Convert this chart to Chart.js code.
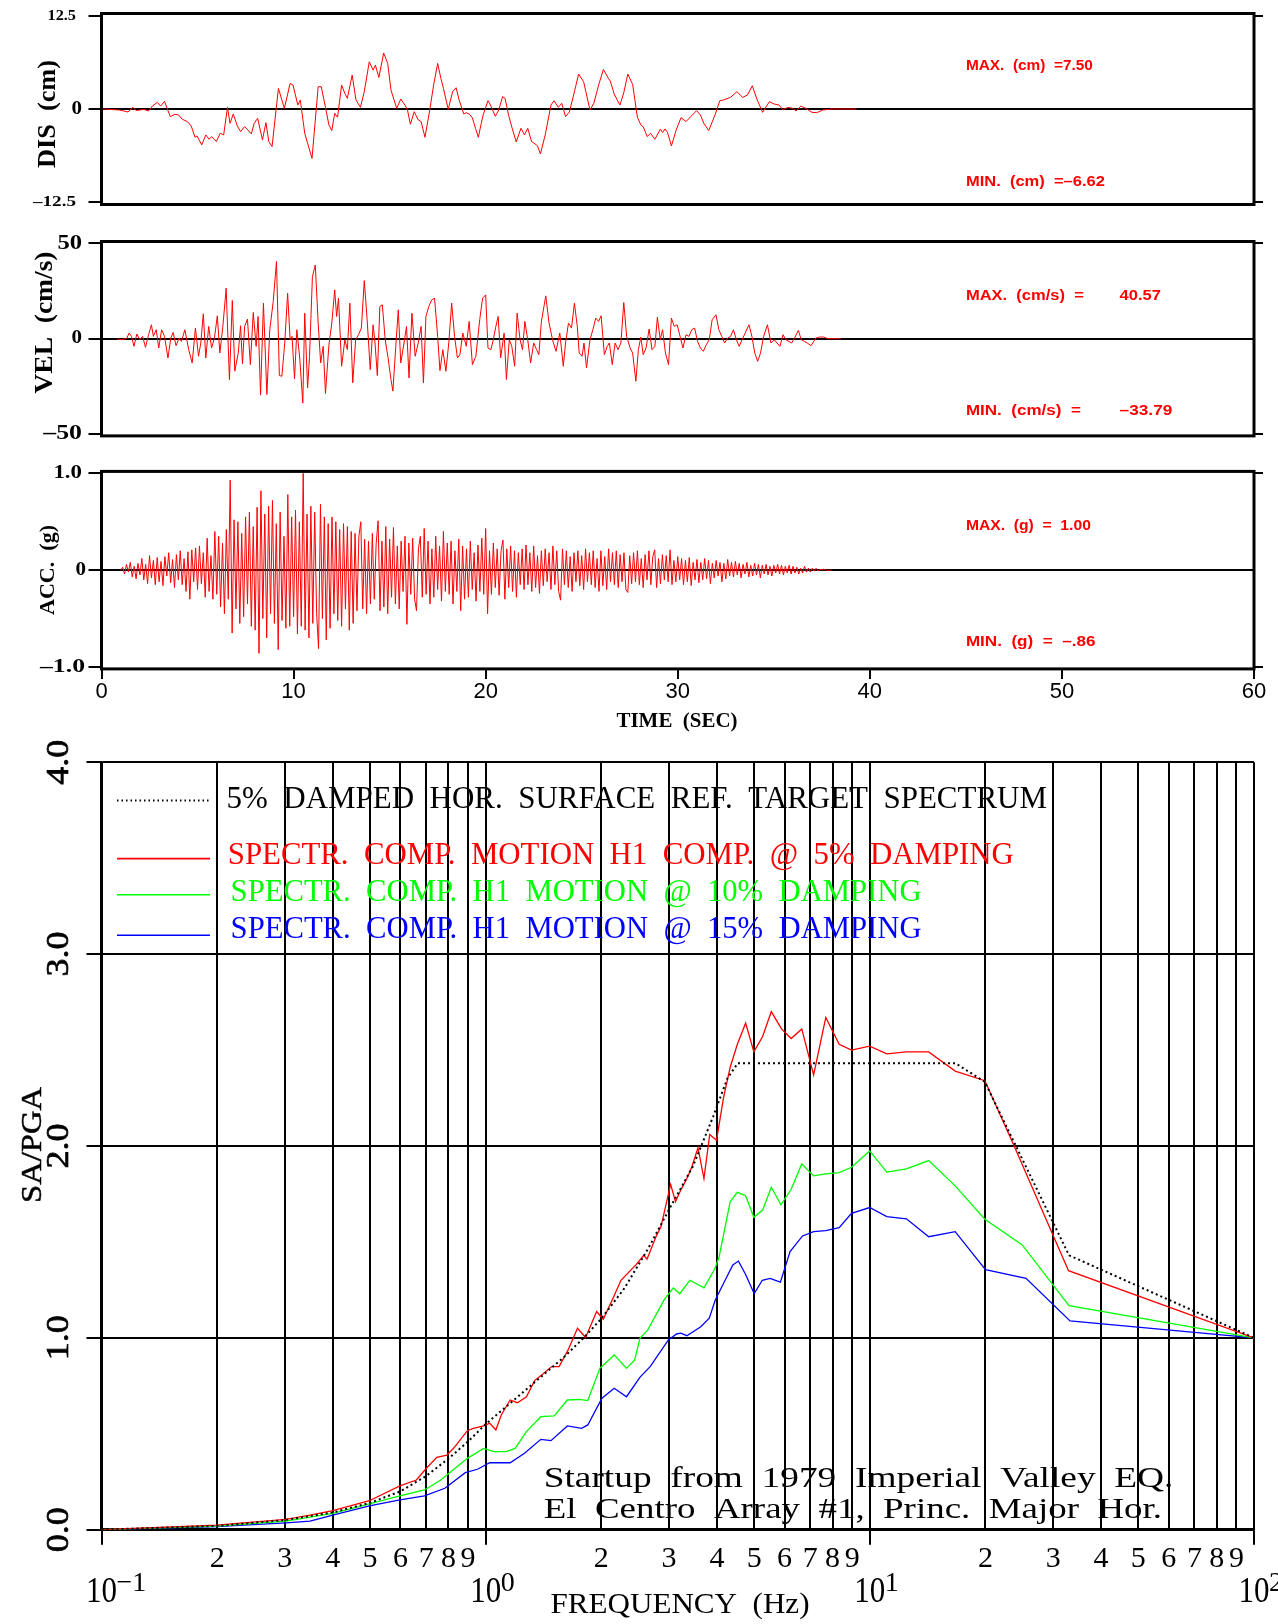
<!DOCTYPE html>
<html>
<head>
<meta charset="utf-8">
<script src="https://cdn.jsdelivr.net/npm/chart.js@4.4.1/dist/chart.umd.min.js"></script>
<style>
  html, body { margin: 0; padding: 0; background: #fff; }
  body { width: 1278px; height: 1624px; position: relative; overflow: hidden; }
  canvas { position: absolute; left: 0; }
</style>
</head>
<body>
<canvas id="dis" width="1278" height="230" style="top:0px"></canvas>
<canvas id="vel" width="1278" height="230" style="top:230px"></canvas>
<canvas id="acc" width="1278" height="280" style="top:460px"></canvas>
<canvas id="spec" width="1278" height="884" style="top:740px"></canvas>
<script>
// ---- time histories ----
const TIME_TICKS = [0, 10, 20, 30, 40, 50, 60];

const DIS_T = [0.05,0.93,1.38,1.64,1.81,2.19,2.45,2.65,2.90,3.08,
  3.28,3.58,3.83,4.01,4.21,4.47,4.67,4.87,4.97,5.22,
  5.43,5.60,5.73,5.98,6.18,6.36,6.56,6.69,6.86,7.07,
  7.24,7.45,7.62,7.80,7.95,8.13,8.38,8.56,8.71,8.88,
  9.21,9.52,9.82,9.97,10.22,10.35,10.58,10.73,10.96,11.28,
  11.44,11.66,11.84,11.99,12.14,12.29,12.50,12.67,12.80,13.05,
  13.25,13.48,13.68,13.94,14.14,14.26,14.44,14.69,14.90,15.07,
  15.37,15.58,15.83,15.93,16.08,16.28,16.49,16.64,16.84,17.09,
  17.29,17.50,17.67,17.80,18.05,18.28,18.46,18.61,18.86,18.99,
  19.16,19.31,19.47,19.62,19.77,19.87,20.12,20.25,20.50,20.68,
  20.88,21.01,21.21,21.38,21.59,21.84,22.02,22.19,22.39,22.57,
  22.70,22.85,23.10,23.40,23.56,23.78,23.96,24.16,24.36,24.62,
  24.84,25.10,25.43,25.63,25.88,26.13,26.39,26.49,26.69,26.99,
  27.19,27.40,27.65,27.90,28.08,28.20,28.41,28.58,28.81,29.09,
  29.21,29.34,29.47,29.67,29.92,30.17,30.43,30.68,30.98,31.18,
  31.36,31.61,31.94,32.19,32.37,32.75,33.08,33.38,33.63,33.88,
  34.14,34.42,34.77,35.02,35.27,35.48,35.73,35.98,36.16,36.41,
  36.66,36.99,37.24,37.55,38.05,39.31];
const DIS_V = [0,-0.13,-0.40,0.22,-0.22,-0.04,-0.27,0.40,0.89,0.40,
  1.02,-1.02,-0.71,-0.80,-1.38,-1.69,-2.27,-3.79,-3.61,-4.81,
  -3.48,-4.06,-3.70,-4.37,-3.25,-3.48,0.22,-1.92,-0.67,-2.27,
  -3.03,-2.36,-2.81,-3.34,-1.92,-1.25,-4.14,-1.83,-4.37,-5.04,
  2.76,0.09,3.43,3.21,0.53,1.20,-3.25,-4.59,-6.62,2.99,
  2.99,0.22,-2.14,-2.90,-0.58,-1.11,3.21,2.09,1.43,4.55,
  1.20,0.22,2.32,6.33,5.21,5.88,4.23,7.50,6.11,2.54,
  0.09,1.34,0.40,-0.13,-2.05,-0.36,-1.47,-1.69,-3.79,-0.13,
  3.21,6.11,4.10,2.76,-0.04,2.32,2.85,1.29,-0.67,-0.49,
  -0.71,-1.20,-2.58,-3.79,-1.92,-0.80,1.11,0.53,-0.98,-0.13,
  1.65,1.43,-1.02,-2.58,-4.41,-2.58,-3.48,-2.58,-4.37,-4.68,
  -4.95,-6.02,-3.48,0.53,1.11,0.22,0.76,-1.02,-0.40,2.32,
  4.68,3.65,-0.13,0.76,3.21,5.30,4.10,3.74,2.01,0.53,
  2.18,4.68,3.30,-1.11,-2.14,-2.36,-3.70,-3.25,-4.06,-2.72,
  -3.16,-2.67,-3.16,-4.95,-2.81,-1.16,-1.69,-1.02,-0.22,-0.80,
  -1.92,-2.90,-0.80,1.11,1.20,1.56,2.32,1.56,1.87,3.12,
  1.20,-0.45,0.98,0.67,0.53,-0.13,0.22,0.09,-0.27,0.40,
  0.09,-0.45,-0.49,-0.13,0,0];
const DIS_TICKS = [-12.5, 0, 12.5];
const DIS_TICK_LABELS = ['\u201312.5', '0', '12.5'];
const DIS_MAX = '7.50', DIS_MIN = '\u20136.62';

const VEL_T = [0.80,1.06,1.31,1.44,1.56,1.69,1.84,1.99,2.14,2.29,
  2.45,2.60,2.70,2.85,2.98,3.13,3.28,3.46,3.61,3.73,
  3.88,4.04,4.16,4.34,4.54,4.72,4.89,5.05,5.17,5.30,
  5.43,5.58,5.73,5.88,6.03,6.16,6.31,6.49,6.66,6.81,
  6.94,7.12,7.24,7.34,7.45,7.60,7.75,7.90,8.05,8.15,
  8.28,8.43,8.61,8.76,8.94,9.11,9.26,9.39,9.54,9.69,
  9.82,9.92,10.05,10.17,10.32,10.48,10.58,10.73,10.83,10.98,
  11.13,11.28,11.41,11.54,11.66,11.84,11.99,12.14,12.24,12.34,
  12.50,12.67,12.80,12.93,13.08,13.23,13.38,13.53,13.68,13.83,
  13.99,14.14,14.24,14.36,14.49,14.62,14.77,14.92,15.07,15.17,
  15.32,15.45,15.58,15.75,15.88,16.01,16.16,16.33,16.49,16.64,
  16.76,16.89,17.04,17.19,17.34,17.50,17.62,17.77,17.93,18.08,
  18.23,18.38,18.53,18.66,18.81,18.99,19.14,19.31,19.49,19.69,
  19.84,20.00,20.12,20.27,20.40,20.53,20.65,20.78,20.96,21.08,
  21.23,21.36,21.51,21.64,21.79,21.92,22.04,22.19,22.34,22.50,
  22.65,22.77,22.90,23.13,23.30,23.48,23.66,23.86,24.04,24.16,
  24.31,24.47,24.62,24.77,24.87,25.02,25.12,25.25,25.43,25.58,
  25.73,25.88,26.01,26.18,26.33,26.44,26.59,26.74,26.89,27.04,
  27.19,27.34,27.52,27.65,27.82,27.95,28.08,28.20,28.35,28.51,
  28.66,28.81,28.94,29.09,29.21,29.36,29.52,29.67,29.82,29.97,
  30.12,30.27,30.43,30.58,30.73,30.88,31.03,31.18,31.33,31.49,
  31.64,31.79,31.99,32.14,32.29,32.44,32.60,32.75,32.90,33.05,
  33.20,33.35,33.51,33.71,33.86,34.01,34.16,34.31,34.47,34.67,
  34.85,35.02,35.17,35.32,35.48,35.63,35.93,36.08,36.28,36.43,
  36.59,36.74,36.94,37.19,37.39,37.60,37.80,38.50];
const VEL_V = [-0.17,-0.52,0.17,2.96,1.22,-4.01,2.44,-0.52,1.22,-4.53,
  2.09,7.32,1.22,4.70,-4.88,4.70,1.22,-10.10,0.35,3.31,
  -3.66,0.35,-1.39,4.70,-5.75,-12.72,5.57,-9.23,-2.26,13.07,
  -10.10,6.45,-4.88,0.35,12.02,-7.49,5.57,26.48,-21.43,20.03,
  -17.07,-7.49,6.79,-13.24,6.45,10.28,-13.59,13.76,-4.01,11.67,
  -29.61,18.64,-29.27,4.70,19.51,40.57,-19.34,-19.69,-2.26,23.87,
  -0.52,1.22,-21.08,4.70,-10.10,-33.79,13.41,-25.78,-9.23,32.58,
  38.67,8.19,-12.72,-4.01,-28.74,-3.14,8.19,25.61,11.67,21.25,
  -14.46,-0.52,-5.75,18.64,-23.17,-0.52,2.09,5.57,30.49,9.93,
  -16.20,7.32,-2.26,-19.34,16.90,17.77,-0.52,-10.10,-21.43,-27.52,
  -4.01,15.16,-12.72,-2.26,6.45,-20.56,13.41,-9.23,-2.26,6.45,
  -23.17,11.67,16.90,20.38,21.25,1.22,-16.72,-5.75,-17.07,-2.26,
  18.64,1.22,-10.10,-8.36,2.96,-4.01,9.06,-13.59,-9.23,9.93,
  21.25,22.99,-4.88,-5.75,-0.52,6.45,11.67,-10.10,2.96,-21.43,
  -0.52,-4.01,-14.46,13.41,-0.52,-5.75,9.06,-0.52,-12.72,-2.26,
  -5.75,-8.36,9.06,22.47,8.19,-0.52,-6.62,2.96,-14.46,-2.26,
  8.19,5.57,18.64,6.45,-7.49,-9.23,-2.26,-15.33,-0.52,4.70,
  10.80,9.06,12.02,-8.36,-4.01,-2.26,-13.59,-2.26,-5.75,-2.26,
  18.99,1.22,-4.88,-7.49,-22.30,-5.75,0.87,-8.36,-4.88,5.05,
  -5.75,-4.01,11.32,-0.52,4.70,-7.49,-13.59,10.80,6.45,7.32,
  1.22,-4.88,2.09,1.22,4.70,5.57,-1.39,-4.88,-6.62,-3.14,
  -0.52,9.93,12.54,4.70,1.22,-2.26,0.35,1.22,4.70,-0.52,
  -4.01,-0.52,2.96,7.32,1.22,-7.49,-11.85,-7.49,1.22,7.32,
  -2.26,-0.52,-2.26,-4.01,2.09,-0.52,-2.26,0.35,4.35,-0.52,
  -1.39,-2.26,-3.66,0.35,0.87,0.87,0,0];
const VEL_TICKS = [-50, 0, 50];
const VEL_TICK_LABELS = ['\u201350', '0', '50'];
const VEL_MAX = '40.57', VEL_MIN = '\u201333.79';

// acceleration record, sampled every 0.1 s from 1.0 s
const ACC_START = 1.0, ACC_STEP = 0.1;
const ACC_V = [
  0.00,0.03,-0.04,0.06,-0.02,0.08,-0.07,0.04,-0.09,0.07,
  -0.05,0.12,-0.10,0.06,-0.14,0.15,-0.08,0.10,-0.15,0.13,
  -0.12,0.09,-0.16,0.14,-0.06,0.18,-0.13,0.11,-0.18,0.16,
  -0.10,0.20,-0.15,0.12,-0.22,0.19,-0.30,0.21,-0.12,0.23,
  -0.20,0.25,-0.14,0.18,-0.28,0.33,-0.22,0.15,-0.30,0.40,
  -0.25,0.35,-0.38,0.28,-0.45,0.42,-0.30,0.93,-0.65,0.52,
  -0.40,0.50,-0.55,0.38,-0.48,0.55,-0.35,0.60,-0.58,0.45,
  -0.62,0.65,-0.86,0.82,-0.50,0.58,-0.70,0.66,-0.45,0.72,
  -0.55,0.48,-0.82,0.60,-0.52,0.35,-0.60,0.78,-0.58,0.55,
  -0.48,0.62,-0.66,0.50,-0.58,1.00,-0.62,0.58,-0.70,0.66,
  -0.55,0.60,-0.45,-0.81,0.68,-0.50,0.55,-0.72,0.48,-0.60,
  0.55,-0.45,0.50,-0.52,0.42,-0.58,0.48,-0.40,0.45,-0.62,
  0.40,-0.55,0.38,-0.42,0.35,0.50,-0.40,0.32,-0.45,0.30,
  -0.35,0.38,-0.30,0.28,0.51,-0.42,0.30,-0.38,0.45,-0.45,
  0.32,-0.28,0.44,-0.35,0.25,-0.40,0.30,-0.22,0.35,-0.56,
  0.28,-0.25,0.33,-0.30,-0.42,0.22,0.35,-0.28,0.43,-0.25,
  0.30,-0.35,0.22,-0.28,0.35,-0.20,0.25,-0.32,0.40,-0.22,
  0.28,-0.25,0.30,-0.35,0.20,-0.22,0.32,-0.42,0.25,-0.30,
  0.22,-0.28,0.30,-0.20,0.18,-0.32,0.26,-0.22,0.33,-0.25,
  0.43,-0.45,0.20,-0.25,0.28,-0.18,0.22,-0.26,0.20,0.31,
  -0.30,0.22,-0.18,0.25,-0.22,0.20,-0.28,0.18,-0.15,0.22,
  -0.20,0.26,-0.15,0.18,-0.22,0.25,-0.18,0.15,-0.24,0.20,
  -0.16,0.22,-0.12,0.18,-0.20,0.25,-0.15,0.20,-0.22,-0.31,
  0.22,-0.15,0.20,-0.18,0.14,-0.22,0.18,-0.12,0.20,-0.16,
  0.15,-0.20,0.22,-0.12,0.18,-0.15,0.20,-0.18,0.12,-0.22,
  0.20,-0.16,0.14,-0.20,0.22,-0.12,0.18,-0.15,0.20,-0.18,
  0.16,-0.12,0.18,-0.20,-0.23,0.15,-0.14,0.18,-0.12,0.20,
  -0.15,0.12,-0.18,0.16,-0.10,0.20,-0.15,0.14,0.21,-0.18,
  0.12,-0.14,0.16,-0.10,0.15,-0.12,0.21,-0.15,0.10,-0.12,
  0.14,-0.10,0.12,-0.15,0.10,-0.12,0.13,-0.16,0.08,-0.10,
  0.11,-0.13,0.08,-0.10,0.12,-0.09,0.10,-0.14,0.07,-0.08,
  0.10,-0.06,0.08,-0.12,0.07,-0.09,0.11,-0.06,0.08,-0.07,
  0.09,-0.05,0.07,-0.08,0.06,-0.04,0.08,-0.07,0.05,-0.06,
  0.07,-0.05,0.06,-0.08,0.05,-0.04,0.06,-0.05,0.04,-0.06,
  0.05,-0.03,0.06,-0.04,0.05,-0.05,0.04,-0.03,0.05,-0.04,
  0.04,-0.03,0.03,-0.04,0.02,-0.03,0.04,-0.02,0.02,-0.02,
  0.02,-0.01,0.02,-0.01,0.01,0.00,0.01,0.00,0.00,0.00,
  0.00];
const ACC_TICKS = [-1, 0, 1];
const ACC_TICK_LABELS = ['\u20131.0', '0', '1.0'];
const ACC_MAX = '1.00', ACC_MIN = '\u2013.86';

// ---- response spectra ----
const FREQ_TICKS = [0.1,0.2,0.3,0.4,0.5,0.6,0.7,0.8,0.9,1,2,3,4,5,6,7,8,9,10,20,30,40,50,60,70,80,90,100];
const FREQ_LABELS = ['10^\u22121','2','3','4','5','6','7','8','9','10^0','2','3','4','5','6','7','8','9',
  '10^1','2','3','4','5','6','7','8','9','10^2'];
const SA_TICKS = [0, 1, 2, 3, 4];

const TARGET_F = [0.1,0.2,0.3,0.4,0.5,0.6,0.7,0.8,0.9,1.0,1.2,1.4,1.6,1.8,2.0,2.3,2.65,3.03,3.46,3.91,4.26,4.53,16.7,19.9,33.0,100];
const TARGET_V = [0,0.02,0.05,0.09,0.14,0.20,0.28,0.37,0.46,0.55,0.685,0.80,0.90,1.00,1.10,1.26,1.466,1.684,1.892,2.153,2.353,2.431,2.431,2.335,1.43,1.0];

const RED_F = [0.1,0.199,0.302,0.349,0.400,0.498,0.598,0.660,0.701,0.746,0.793,0.832,0.896,0.929,0.988,1.025,1.063,1.098,1.158,1.210,
  1.277,1.341,1.409,1.486,1.553,1.639,1.734,1.820,1.945,2.023,2.135,2.25,2.46,2.58,2.63,2.78,2.86,3.03,3.12,3.22,
  3.34,3.44,3.57,3.70,3.83,3.99,4.16,4.33,4.52,4.75,4.99,5.26,5.54,5.89,6.24,6.65,7.14,7.68,8.32,8.96,
  9.99,11.07,12.45,14.23,16.68,19.93,23.75,32.9,100];
const RED_V = [0,0.024,0.054,0.076,0.099,0.151,0.228,0.259,0.320,0.377,0.389,0.433,0.516,0.528,0.541,0.555,0.520,0.598,0.676,0.662,
  0.693,0.777,0.811,0.850,0.850,0.937,1.050,1.002,1.137,1.097,1.197,1.30,1.38,1.43,1.41,1.53,1.58,1.80,1.71,1.77,
  1.83,1.89,1.99,1.83,2.06,2.03,2.25,2.41,2.53,2.64,2.49,2.57,2.70,2.61,2.56,2.61,2.37,2.67,2.53,2.50,
  2.52,2.48,2.49,2.49,2.39,2.34,2.00,1.35,1.00];

const GREEN_F = [0.1,0.199,0.302,0.400,0.498,0.598,0.693,0.764,0.822,0.896,0.988,1.050,1.130,1.193,1.277,1.392,1.508,1.632,1.755,1.844,
  1.983,2.161,2.326,2.443,2.52,2.64,2.92,3.08,3.2,3.4,3.7,3.95,4.05,4.33,4.52,4.75,4.99,5.26,5.54,5.87,
  6.24,6.65,7.14,7.68,8.32,8.96,9.99,11.07,12.45,14.23,16.68,19.93,24.93,33.0,100];
const GREEN_V = [0,0.019,0.045,0.085,0.134,0.176,0.207,0.259,0.311,0.372,0.424,0.407,0.407,0.424,0.511,0.589,0.593,0.676,0.679,0.673,
  0.841,0.911,0.841,0.885,0.997,1.04,1.20,1.26,1.23,1.30,1.26,1.36,1.42,1.710,1.758,1.741,1.628,1.666,1.785,1.693,
  1.774,1.906,1.844,1.854,1.861,1.889,1.974,1.864,1.880,1.924,1.792,1.618,1.484,1.168,1.00];

const BLUE_F = [0.1,0.199,0.302,0.349,0.400,0.498,0.598,0.693,0.783,0.885,0.952,1.025,1.158,1.262,1.392,1.479,1.632,1.777,1.844,2.008,
  2.161,2.326,2.52,2.68,2.99,3.14,3.22,3.34,3.63,3.82,3.96,4.2,4.4,4.55,4.75,5.0,5.25,5.5,5.85,6.2,
  6.68,7.14,7.68,8.32,8.96,9.99,11.07,12.45,14.23,16.68,20.0,25.5,33.2,100];
const BLUE_V = [0,0.016,0.036,0.045,0.076,0.124,0.155,0.176,0.216,0.297,0.315,0.349,0.349,0.398,0.471,0.464,0.541,0.528,0.546,0.685,
  0.737,0.693,0.794,0.850,0.989,1.020,1.024,1.011,1.058,1.102,1.197,1.30,1.38,1.40,1.33,1.23,1.30,1.31,1.29,1.45,
  1.531,1.553,1.559,1.574,1.649,1.679,1.632,1.620,1.527,1.553,1.355,1.31,1.088,1.00];

const LEGEND_LABELS = [
  '5%  DAMPED  HOR.  SURFACE  REF.  TARGET  SPECTRUM',
  'SPECTR.  COMP.  MOTION  H1  COMP.  @  5%  DAMPING',
  'SPECTR.  COMP.  H1  MOTION  @  10%  DAMPING',
  'SPECTR.  COMP.  H1  MOTION  @  15%  DAMPING'
];
const NOTE_LINES = ['Startup  from  1979  Imperial  Valley  EQ.', 'El  Centro  Array  #1,  Princ.  Major  Hor.'];

// ---- helpers ----
const SERIF = '"Liberation Serif", "DejaVu Serif", serif';
const SANS = '"Liberation Sans", "DejaVu Sans", sans-serif';
const RED = '#ff0000', GREEN = '#00ff00', BLUE = '#0000ff';

function fitText(ctx, str, x, y, o) {
  ctx.save();
  ctx.font = o.font;
  ctx.fillStyle = o.color || '#000';
  ctx.textBaseline = 'middle';
  ctx.textAlign = o.align || 'left';
  const w = ctx.measureText(str).width;
  ctx.translate(x, y);
  if (o.rotate) ctx.rotate(o.rotate);
  if (o.width && w > 0) ctx.scale(o.width / w, 1);
  ctx.fillText(str, 0, 0);
  if (o.stroke) { ctx.strokeStyle = ctx.fillStyle; ctx.lineWidth = o.stroke; ctx.strokeText(str, 0, 0); }
  ctx.restore();
}

const pairs = (xs, ys) => xs.map((x, i) => ({ x: x, y: ys[i] }));

Chart.defaults.animation = false;

function timePanel(p) {
  const deco = {
    id: 'deco',
    afterDraw(chart) {
      const { ctx, chartArea: a } = chart;
      const ys = chart.scales.y, xs = chart.scales.x;
      ctx.save();
      ctx.strokeStyle = '#000';
      ctx.lineWidth = 3;
      ctx.strokeRect(a.left, a.top, a.right - a.left, a.bottom - a.top);
      ctx.restore();
      p.ticks.forEach((v, i) => {
        const st = p.tickStyle[i];
        fitText(ctx, p.tickLabels[i], st.right, ys.getPixelForValue(v),
          { font: `bold ${st.size}px ${SERIF}`, width: st.w, align: 'right' });
      });
      fitText(ctx, p.title, p.titleX, p.titleY,
        { font: `bold ${p.titleSize}px ${SERIF}`, width: p.titleW, align: 'center', rotate: -Math.PI / 2 });
      p.stats.forEach(s => {
        const y = a.top + s.frac * (a.bottom - a.top);
        fitText(ctx, s.text, xs.getPixelForValue(s.t), y,
          { font: `bold 15px ${SANS}`, width: s.w, color: RED });
      });
      if (p.xTitle) {
        fitText(ctx, 'TIME  (SEC)', 677, 262, { font: `bold 20px ${SERIF}`, width: 121, align: 'center' });
      }
    }
  };
  return new Chart(document.getElementById(p.id), {
    type: 'line',
    data: { datasets: [{ data: pairs(p.t, p.v), borderColor: RED, borderWidth: 1, pointRadius: 0, tension: 0 }] },
    options: {
      responsive: false,
      events: [],
      layout: { padding: p.pad },
      plugins: { legend: { display: false }, tooltip: { enabled: false } },
      scales: {
        x: {
          type: 'linear', min: 0, max: 60, bounds: 'data', display: !!p.xTitle,
          afterFit: s => { s.height = p.xTitle ? 40 : 0; },
          afterBuildTicks: s => { s.ticks = TIME_TICKS.map(v => ({ value: v })); },
          grid: { drawOnChartArea: false, color: '#000', lineWidth: 2, tickLength: 10 },
          border: { display: false },
          ticks: { color: '#000', font: { family: SANS, size: 22 }, padding: 0, maxRotation: 0,
                   callback: v => String(v) }
        },
        y: {
          min: -p.lim, max: p.lim, bounds: 'data',
          afterFit: s => { s.width = 0; },
          afterBuildTicks: s => { s.ticks = p.ticks.map(v => ({ value: v })); },
          grid: { color: c => (c.tick && c.tick.value === 0) ? '#000' : 'rgba(0,0,0,0)', lineWidth: 2,
                  tickColor: '#000', tickWidth: 2, tickLength: 13 },
          border: { display: false },
          ticks: { display: false }
        },
        y2: {
          position: 'right', min: -p.lim, max: p.lim, bounds: 'data',
          afterFit: s => { s.width = 0; },
          afterBuildTicks: s => { s.ticks = [p.ticks[0], p.ticks[p.ticks.length - 1]].map(v => ({ value: v })); },
          grid: { drawOnChartArea: false, color: '#000', lineWidth: 2, tickLength: 9 },
          border: { display: false },
          ticks: { display: false }
        }
      }
    },
    plugins: [deco]
  });
}

timePanel({
  id: 'dis', t: DIS_T, v: DIS_V, lim: 12.8, ticks: DIS_TICKS, tickLabels: DIS_TICK_LABELS,
  tickStyle: [{ size: 15, w: 43, right: 76 }, { size: 18, w: 10.5, right: 82 }, { size: 15, w: 28.5, right: 76 }],
  pad: { left: 101.5, right: 24, top: 13.5, bottom: 25.5 },
  title: 'DIS  (cm)', titleX: 48, titleY: 114, titleSize: 26, titleW: 108,
  stats: [
    { text: 'MAX.  (cm)  =' + DIS_MAX, t: 45.0, frac: 0.275, w: 127 },
    { text: 'MIN.  (cm)  =' + DIS_MIN, t: 45.0, frac: 0.882, w: 139 }
  ]
});

timePanel({
  id: 'vel', t: VEL_T, v: VEL_V, lim: 51, ticks: VEL_TICKS, tickLabels: VEL_TICK_LABELS,
  tickStyle: [{ size: 21, w: 38.7, right: 82 }, { size: 18, w: 10.5, right: 82 }, { size: 21, w: 24.6, right: 82 }],
  pad: { left: 101.5, right: 24, top: 11.5, bottom: 24.1 },
  title: 'VEL  (cm/s)', titleX: 45, titleY: 92.5, titleSize: 26, titleW: 142,
  stats: [
    { text: 'MAX.  (cm/s)  =', t: 45.0, frac: 0.281, w: 118 },
    { text: VEL_MAX, t: 53.0, frac: 0.281, w: 41.4 },
    { text: 'MIN.  (cm/s)  =', t: 45.0, frac: 0.873, w: 115 },
    { text: VEL_MIN, t: 53.0, frac: 0.873, w: 52.8 }
  ]
});

timePanel({
  id: 'acc', t: ACC_V.map((v, i) => ACC_START + i * ACC_STEP), v: ACC_V, lim: 1.02,
  ticks: ACC_TICKS, tickLabels: ACC_TICK_LABELS,
  tickStyle: [{ size: 19, w: 45, right: 85 }, { size: 19, w: 10.5, right: 86 }, { size: 19, w: 28.6, right: 82 }],
  pad: { left: 101.5, right: 24, top: 11.4, bottom: 31.1 },
  title: 'ACC.  (g)', titleX: 48, titleY: 110, titleSize: 22, titleW: 90,
  stats: [
    { text: 'MAX.  (g)  =  ' + ACC_MAX, t: 45.0, frac: 0.277, w: 125 },
    { text: 'MIN.  (g)  =  ' + ACC_MIN, t: 45.0, frac: 0.864, w: 129.5 }
  ],
  xTitle: true
});

// ---- spectrum chart ----
const isDecade = v => Math.abs(Math.log10(v) - Math.round(Math.log10(v))) < 1e-9;

const specDatasets = [
  { data: pairs(TARGET_F, TARGET_V), borderColor: '#000', borderWidth: 2, borderDash: [2, 3] },
  { data: pairs(RED_F, RED_V), borderColor: RED, borderWidth: 1.3 },
  { data: pairs(GREEN_F, GREEN_V), borderColor: GREEN, borderWidth: 1.3 },
  { data: pairs(BLUE_F, BLUE_V), borderColor: BLUE, borderWidth: 1.3 }
].map(d => Object.assign({ pointRadius: 0, tension: 0 }, d));

const LEGEND_ROWS = [
  { ly: 60.6, ty: 60, x: 226.5, w: 820.5, color: '#000', dash: [1.5, 3] },
  { ly: 118.6, ty: 116.3, x: 227.8, w: 786, color: RED, dash: [] },
  { ly: 154.8, ty: 153.3, x: 230.6, w: 691, color: GREEN, dash: [] },
  { ly: 195.2, ty: 189.5, x: 230.6, w: 691, color: BLUE, dash: [] }
];

const specDeco = {
  id: 'specDeco',
  afterDraw(chart) {
    const { ctx } = chart;
    const xs = chart.scales.x, ys = chart.scales.y;
    LEGEND_ROWS.forEach((r, i) => {
      ctx.save();
      ctx.strokeStyle = r.color;
      ctx.lineWidth = i === 0 ? 2 : 1.6;
      ctx.setLineDash(r.dash);
      ctx.beginPath();
      ctx.moveTo(117, r.ly);
      ctx.lineTo(210, r.ly);
      ctx.stroke();
      ctx.restore();
      fitText(ctx, LEGEND_LABELS[i], r.x, r.ty, { font: `31px ${SERIF}`, width: r.w, color: r.color });
    });
    fitText(ctx, NOTE_LINES[0], 543.7, 739, { font: `30px ${SERIF}`, width: 629.7 });
    fitText(ctx, NOTE_LINES[1], 543.7, 770, { font: `30px ${SERIF}`, width: 618.3 });
    SA_TICKS.forEach(v => {
      fitText(ctx, v.toFixed(1), 60, ys.getPixelForValue(v),
        { font: `32px ${SERIF}`, width: 45, align: 'center', rotate: -Math.PI / 2, stroke: 0.7 });
    });
    fitText(ctx, 'SA/PGA', 33, 405, { font: `30px ${SERIF}`, width: 116, align: 'center', rotate: -Math.PI / 2, stroke: 0.5 });
    FREQ_TICKS.forEach((v, i) => {
      const px = xs.getPixelForValue(v);
      const lab = FREQ_LABELS[i];
      if (lab.indexOf('^') >= 0) {
        const parts = lab.split('^');
        fitText(ctx, parts[0], px, 852.5, { font: `36px ${SERIF}`, width: 31, align: 'center' });
        fitText(ctx, parts[1], px + 15, 844, { font: `28px ${SERIF}`, align: 'left' });
      } else {
        fitText(ctx, lab, px, 819, { font: `30px ${SERIF}`, align: 'center' });
      }
    });
    fitText(ctx, 'FREQUENCY  (Hz)', 680, 865, { font: `30px ${SERIF}`, width: 259, align: 'center' });
  }
};

new Chart(document.getElementById('spec'), {
  type: 'line',
  data: { datasets: specDatasets },
  options: {
    responsive: false,
    events: [],
    layout: { padding: { left: 101.5, right: 24, top: 22.2, bottom: 94.3 } },
    plugins: { legend: { display: false }, tooltip: { enabled: false } },
    scales: {
      x: {
        type: 'logarithmic', min: 0.1, max: 100, bounds: 'data',
        afterFit: s => { s.height = 0; },
        afterBuildTicks: s => { s.ticks = FREQ_TICKS.map(v => ({ value: v, major: isDecade(v) })); },
        grid: { color: '#000', lineWidth: 2, tickLength: 15, tickWidth: 2,
                tickColor: c => (c.tick && isDecade(c.tick.value)) ? '#000' : 'rgba(0,0,0,0)' },
        border: { display: true, color: '#000', width: 2.5 },
        ticks: { display: false }
      },
      y: {
        min: 0, max: 4, bounds: 'data',
        afterFit: s => { s.width = 0; },
        afterBuildTicks: s => { s.ticks = SA_TICKS.map(v => ({ value: v })); },
        grid: { color: '#000', lineWidth: 2, tickLength: 15 },
        border: { display: true, color: '#000', width: 2.5 },
        ticks: { display: false }
      }
    }
  },
  plugins: [specDeco]
});
</script>
</body>
</html>
